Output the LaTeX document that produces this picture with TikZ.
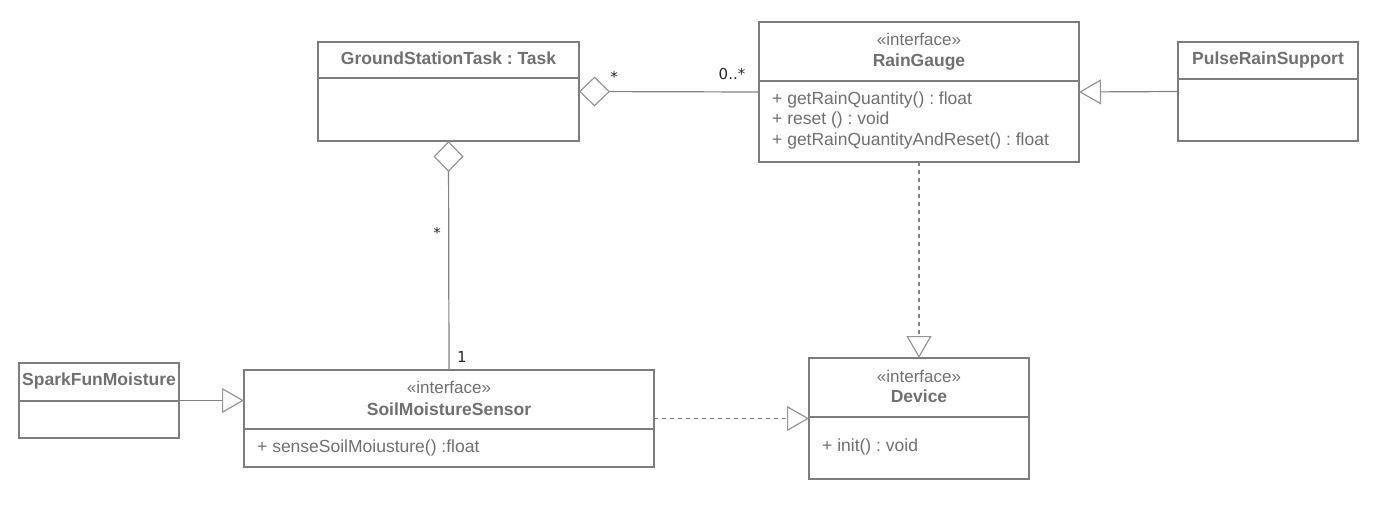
\documentclass[tikz,border=0pt]{standalone}
\usepackage{fontspec}
\setmainfont{Liberation Sans}
\newfontfamily\labfont{DejaVu Sans}
\usetikzlibrary{arrows.meta}
\definecolor{boxline}{RGB}{125,125,125}
\definecolor{txt}{RGB}{112,112,112}
\definecolor{conn}{RGB}{130,130,130}
\definecolor{tipc}{RGB}{150,150,150}
\definecolor{labc}{RGB}{40,40,40}
\frenchspacing
\begin{document}
\begin{tikzpicture}[x=1pt,y=-1pt,
  classbox/.style={draw=boxline, line width=2.4pt, inner sep=0pt, outer sep=0pt, anchor=north west},
  divider/.style={draw=boxline, line width=2.4pt},
  title/.style={font=\fontsize{17.5}{20}\selectfont\bfseries, text=txt, inner sep=0pt, anchor=base},
  stereo/.style={font=\fontsize{17}{20}\selectfont, text=txt, inner sep=0pt, anchor=base},
  member/.style={font=\fontsize{17.5}{20}\selectfont, text=txt, inner sep=0pt, anchor=base west},
  mult/.style={font=\labfont\fontsize{15}{18}\selectfont, text=labc, inner sep=0pt, anchor=base},
  assoc/.style={draw=conn, line width=1.2pt},
  dep/.style={draw=conn, line width=1.2pt, dash pattern=on 4pt off 4pt},
  aggtip/.style={{Diamond[open, length=31pt, width=30pt, color=tipc]}-},
  gentip/.style={-{Triangle[open, length=22pt, width=25pt, color=tipc]}}
]
\fill[white] (0,0) rectangle (1377,509);
\useasboundingbox (0,0) rectangle (1377,509);

% class boxes
\node[classbox, minimum width=261pt, minimum height=99pt] (gst) at (318,42) {};
\draw[divider] (gst.west |- 0,78) -- (gst.east |- 0,78);
\node[title] (gstT) at (448.5,64) {GroundStationTask : Task};

\node[classbox, minimum width=320pt, minimum height=140pt] (rg) at (759,22) {};
\draw[divider] (rg.west |- 0,81) -- (rg.east |- 0,81);
\node[stereo] (rgS) at (919,45) {«interface»};
\node[title] (rgT) at (919,66) {RainGauge};
\node[member] (rgM1) at (772,104) {+ getRainQuantity() : float};
\node[member] (rgM2) at (772,124.5) {+ reset () : void};
\node[member] (rgM3) at (772,145) {+ getRainQuantityAndReset() : float};

\node[classbox, minimum width=180pt, minimum height=99pt] (prs) at (1178,42) {};
\draw[divider] (prs.west |- 0,79) -- (prs.east |- 0,79);
\node[title] (prsT) at (1268,64) {PulseRainSupport};

\node[classbox, minimum width=160pt, minimum height=75pt] (sfm) at (19,363) {};
\draw[divider] (sfm.west |- 0,401) -- (sfm.east |- 0,401);
\node[title] (sfmT) at (99,385.5) {SparkFunMoisture};

\node[classbox, minimum width=410pt, minimum height=97pt] (sms) at (244,370) {};
\draw[divider] (sms.west |- 0,429) -- (sms.east |- 0,429);
\node[stereo] (smsS) at (449,393) {«interface»};
\node[title] (smsT) at (449,415) {SoilMoistureSensor};
\node[member] (smsM1) at (257,452) {+ senseSoilMoiusture() :float};

\node[classbox, minimum width=220pt, minimum height=121pt] (dev) at (809,358) {};
\draw[divider] (dev.west |- 0,417) -- (dev.east |- 0,417);
\node[stereo] (devS) at (919,382) {«interface»};
\node[title] (devT) at (919,402.5) {Device};
\node[member] (devM1) at (822,451.5) {+ init() : void};

% connectors
\draw[assoc, aggtip] (gst.east) -- (rg.west);
\draw[assoc, aggtip] (gst.south) -- (sms.north);
\draw[assoc, gentip] (prs.west) -- (rg.east);
\draw[assoc, gentip] (sfm.east) -- (sfm.east -| sms.west);
\draw[dep, gentip] (sms.east) -- (dev.west);
\draw[dep, gentip] (rg.south) -- (dev.north);

% multiplicities
\node[mult] (m1) at (614,82) {*};
\node[mult] (m2) at (732,79.5) {0..*};
\node[mult] (m3) at (437,238) {*};
\node[mult] (m4) at (462,362.5) {1};
\end{tikzpicture}
\end{document}
